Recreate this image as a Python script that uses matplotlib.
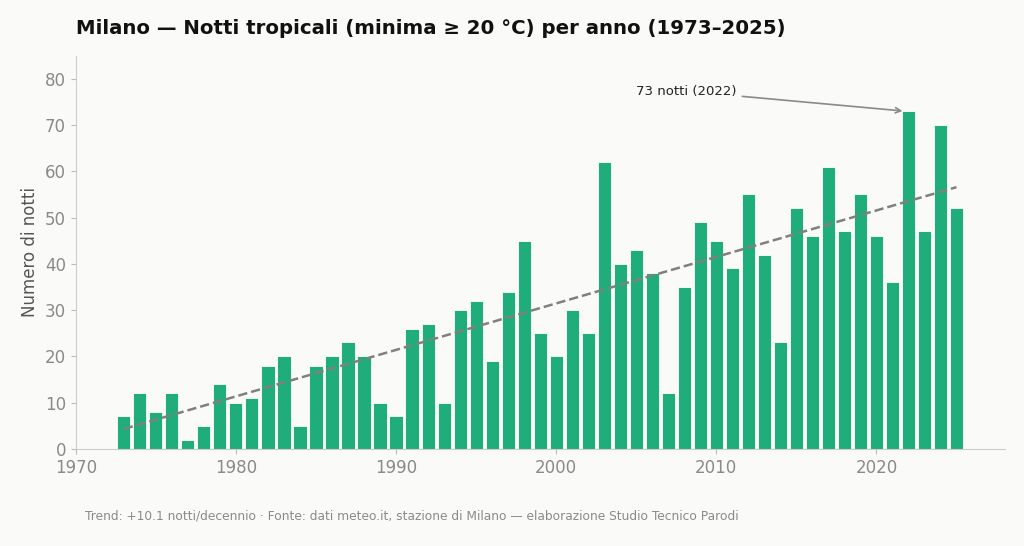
import matplotlib
matplotlib.use("Agg")
import matplotlib.pyplot as plt
import numpy as np

years = np.arange(1973, 2026)
nights = [
    7, 12, 8, 12, 2, 5, 14, 10, 11, 18,
    20, 5, 18, 20, 23, 20, 10, 7, 26, 27,
    10, 30, 32, 19, 34, 45, 25, 20, 30, 25,
    62, 40, 43, 38, 12, 35, 49, 45, 39, 55,
    42, 23, 52, 46, 61, 47, 55, 46, 36, 73,
    47, 70, 52,
]
peak_year = 2022

bg = "#fafaf8"
bar_color = "#1fae7b"
gray = "#8a8a8a"

fig = plt.figure(figsize=(10.24, 5.46), dpi=100, facecolor=bg)
ax = fig.add_axes([0.074, 0.178, 0.907, 0.72], facecolor=bg)

ax.bar(years, nights, width=0.82, color=bar_color, edgecolor="white", linewidth=0.6, zorder=2)

# linear trend
slope, intercept = np.polyfit(years, nights, 1)
ax.plot(years, slope * years + intercept, ls="--", color="#808080", lw=1.8, zorder=3)

peak = nights[list(years).index(peak_year)]
ax.annotate(f"{peak} notti ({peak_year})", xy=(peak_year - 0.2, peak), xytext=(2005, 77.3),
            fontsize=9.5, color="#222222", va="center", ha="left",
            arrowprops=dict(arrowstyle="->", color=gray, lw=1.2))

ax.set_xlim(1970, 2028)
ax.set_ylim(0, 85)
ax.set_yticks(range(0, 81, 10))
ax.set_xticks(range(1970, 2021, 10))
for side in ("top", "right"):
    ax.spines[side].set_visible(False)
for side in ("left", "bottom"):
    ax.spines[side].set_color("#cccccc")
ax.tick_params(colors="#bbbbbb", labelcolor=gray, labelsize=12)
ax.set_ylabel("Numero di notti", fontsize=12, color="#555555")

fig.text(0.074, 0.948, "Milano — Notti tropicali (minima ≥ 20 °C) per anno (1973–2025)",
         fontsize=14.2, fontweight="bold", color="#111111", va="center")
fig.text(0.083, 0.055, "Trend: +10.1 notti/decennio · Fonte: dati meteo.it, stazione di Milano — elaborazione Studio Tecnico Parodi",
         fontsize=8.8, color=gray, va="center")

fig.savefig("out.png", dpi=100, facecolor=bg)
